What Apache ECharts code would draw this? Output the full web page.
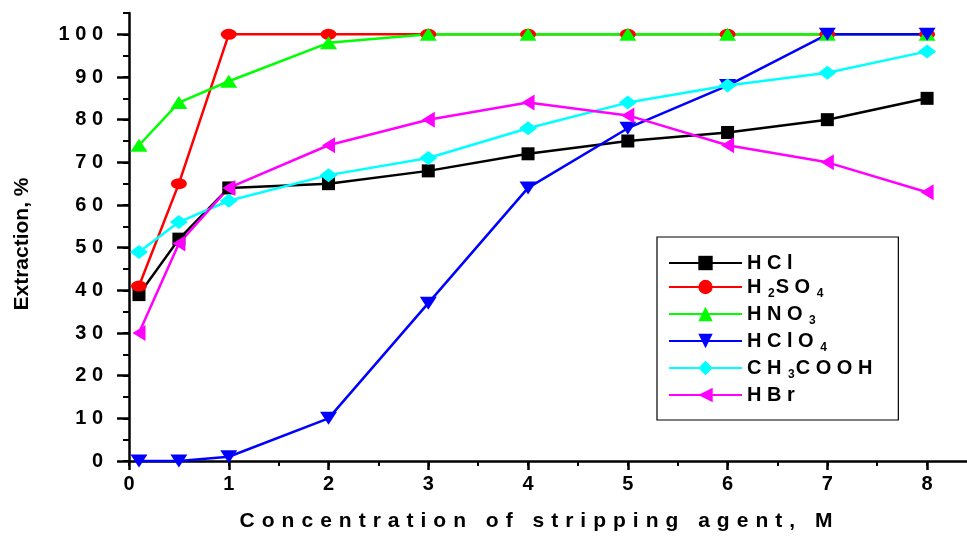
<!DOCTYPE html>
<html>
<head>
<meta charset="utf-8">
<script src="https://cdn.jsdelivr.net/npm/echarts@6/dist/echarts.min.js"></script>
<style>html,body{margin:0;padding:0;background:#fff}#c{width:967px;height:537px}</style>
</head>
<body>
<div id="c"></div>
<script>
// ---- data ----
const concentration = [0.1, 0.5, 1, 2, 3, 4, 5, 6, 7, 8];
const HCl     = [39, 52, 64, 65, 68, 72, 75, 77, 80, 85];
const H2SO4   = [41, 65, 100, 100, 100, 100, 100, 100, 100, 100];
const HNO3    = [74, 84, 89, 98, 100, 100, 100, 100, 100, 100];
const HClO4   = [0, 0, 1, 10, 37, 64, 78, 88, 100, 100];
const CH3COOH = [49, 56, 61, 67, 71, 78, 84, 88, 91, 96];
const HBr     = [30, 51, 64, 74, 80, 84, 81, 74, 70, 63];
const xTickLabels = [0, 1, 2, 3, 4, 5, 6, 7, 8];
const xMinorTicks = [0, 0.5, 1, 1.5, 2, 2.5, 3, 3.5, 4, 4.5, 5, 5.5, 6, 6.5, 7, 7.5, 8];
const yTickLabels = [0, 10, 20, 30, 40, 50, 60, 70, 80, 90, 100];
const yMinorTicks = [0, 5, 10, 15, 20, 25, 30, 35, 40, 45, 50, 55, 60, 65, 70, 75, 80, 85, 90, 95, 100, 105];
const xTitle = 'Concentration of stripping agent, M';
const yTitle = 'Extraction, %';

const FONT = '"Liberation Sans", Arial, sans-serif';
const spaced = (s, sep) => s.split('').join(sep);
const pairs = ys => concentration.map((x, i) => [x, ys[i]]);

const legendRich = {
  'HCl': '{t|H C l}',
  'H2SO4': '{t|H }{s|2}{t|S O }{s|4}',
  'HNO3': '{t|H N O }{s|3}',
  'HClO4': '{t|H C l O }{s|4}',
  'CH3COOH': '{t|C H }{s|3}{t|C O O H}',
  'HBr': '{t|H B r}'
};

const seriesDefs = [
  {name: 'HCl', data: HCl, color: '#000000', symbol: 'rect', size: [13, 13], rot: 0},
  {name: 'H2SO4', data: H2SO4, color: '#ff0000', symbol: 'circle', size: [16, 11], rot: 0},
  {name: 'HNO3', data: HNO3, color: '#00ff00', symbol: 'triangle', size: [17, 13], rot: 0},
  {name: 'HClO4', data: HClO4, color: '#0000ff', symbol: 'triangle', size: [17, 13], rot: 180},
  {name: 'CH3COOH', data: CH3COOH, color: '#00ffff', symbol: 'diamond', size: [18, 14], rot: 0},
  {name: 'HBr', data: HBr, color: '#ff00ff', symbol: 'triangle', size: [16, 13], rot: 90}
];

const chart = echarts.init(document.getElementById('c'), null, {renderer: 'canvas'});
const axisLine = {show: true, onZero: false, lineStyle: {color: '#000', width: 2.5}};
chart.setOption({
  animation: false,
  backgroundColor: '#fff',
  grid: {left: 129, right: 0, top: 13, bottom: 74, containLabel: false},
  legend: {
    orient: 'vertical',
    left: 657, top: 237,
    padding: [16, 26, 15, 11],
    itemGap: 4,
    itemWidth: 73, itemHeight: 18,
    borderColor: '#000', borderWidth: 1.2,
    backgroundColor: '#fff',
    data: seriesDefs.map(s => s.name),
    formatter: n => legendRich[n],
    textStyle: {
      fontFamily: FONT, fontWeight: 'bold', fontSize: 20, color: '#000',
      rich: {
        t: {fontFamily: FONT, fontWeight: 'bold', fontSize: 20, color: '#000', lineHeight: 21},
        s: {fontFamily: FONT, fontWeight: 'bold', fontSize: 12, color: '#000', padding: [14, 1, 0, 1]}
      }
    }
  },
  xAxis: [{
    type: 'value', min: 0, max: 8.4, interval: 0.5,
    position: 'bottom',
    name: spaced(xTitle, '\u2004'), nameLocation: 'middle', nameGap: 50,
    nameTextStyle: {fontFamily: FONT, fontWeight: 'bold', fontSize: 21, color: '#000', padding: [0, 24, 0, 0]},
    axisLine: axisLine,
    axisTick: {show: true, inside: false, length: 5, customValues: xMinorTicks, lineStyle: {color: '#000', width: 2}},
    axisLabel: {show: true, margin: 13, customValues: xTickLabels, fontFamily: FONT, fontWeight: 'bold', fontSize: 20, color: '#000'},
    splitLine: {show: false}
  }, {
    type: 'value', min: 0, max: 8.4, interval: 0.5,
    position: 'bottom', offset: 0,
    axisLine: {show: false},
    axisTick: {show: true, inside: false, length: 9, customValues: xTickLabels, lineStyle: {color: '#000', width: 2.5}},
    axisLabel: {show: false},
    splitLine: {show: false}
  }],
  yAxis: [{
    type: 'value', min: 0, max: 105, interval: 5,
    position: 'left',
    name: yTitle, nameLocation: 'middle', nameGap: 96, nameRotate: 90,
    nameTextStyle: {fontFamily: FONT, fontWeight: 'bold', fontSize: 21, color: '#000', padding: [0, 14, 0, 0]},
    axisLine: axisLine,
    axisTick: {show: true, inside: false, length: 6, customValues: yMinorTicks, lineStyle: {color: '#000', width: 2}},
    axisLabel: {show: true, margin: 26, customValues: yTickLabels, formatter: v => spaced(String(v), ' '),
      fontFamily: FONT, fontWeight: 'bold', fontSize: 20, color: '#000'},
    splitLine: {show: false}
  }, {
    type: 'value', min: 0, max: 105, interval: 5,
    position: 'left', offset: 0,
    axisLine: {show: false},
    axisTick: {show: true, inside: false, length: 12, customValues: yTickLabels, lineStyle: {color: '#000', width: 2.5}},
    axisLabel: {show: false},
    splitLine: {show: false}
  }],
  series: seriesDefs.map(s => ({
    name: s.name, type: 'line', xAxisIndex: 0, yAxisIndex: 0,
    data: pairs(s.data),
    color: s.color,
    symbol: s.symbol, symbolSize: s.size, symbolRotate: s.rot,
    showAllSymbol: true,
    lineStyle: {color: s.color, width: 2.5},
    itemStyle: {color: s.color},
    clip: false
  }))
});
</script>
</body>
</html>
